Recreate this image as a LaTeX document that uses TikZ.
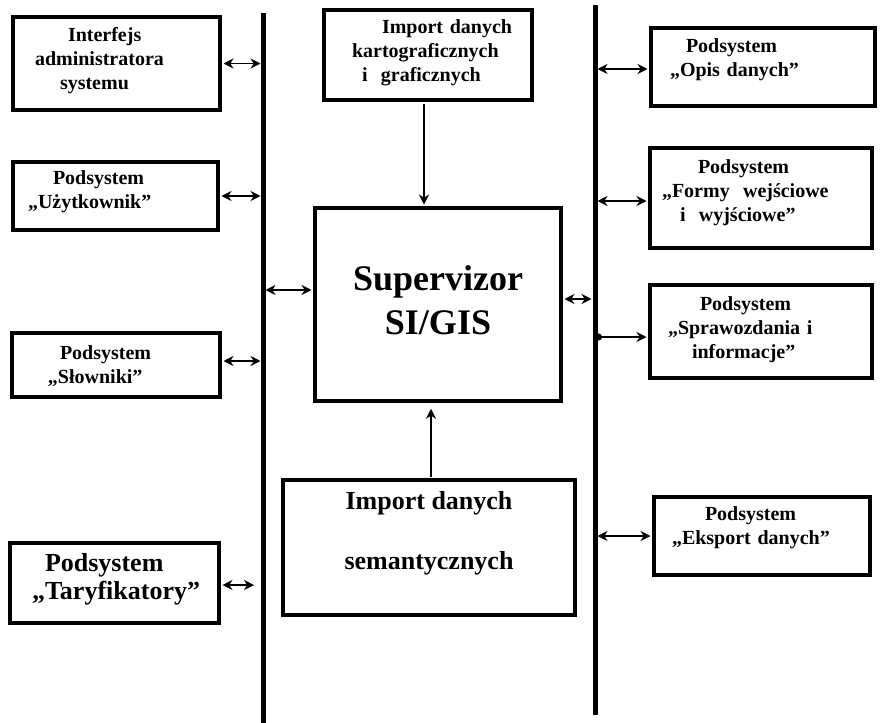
\documentclass[tikz,border=0pt]{standalone}
\usepackage{fontspec}
\setmainfont{Liberation Serif}
\usetikzlibrary{arrows.meta}
\tikzset{
  blk/.style={draw, line width=3.5pt, inner sep=0pt},
  txt/.style={inner sep=0pt, align=left, font=\bfseries\fontsize{20}{24}\selectfont},
  bigtxt/.style={inner sep=0pt, align=left, font=\bfseries\fontsize{26}{28}\selectfont},
  bus/.style={line width=5pt},
  arr/.style={line width=1.7pt, -{Stealth[length=10pt,width=10pt]}},
  darr/.style={line width=1.7pt, {Stealth[length=10pt,width=10pt]}-{Stealth[length=10pt,width=10pt]}},
}
\newcommand{\ind}[1]{\hspace*{#1pt}}
\begin{document}
\begin{tikzpicture}[x=1pt,y=-1pt]
\useasboundingbox[fill=white] (0,0) rectangle (881,723);

% buses
\coordinate (lt) at (263,13);
\coordinate (lb) at (263,723);
\coordinate (rt) at (595,5);
\coordinate (rb) at (595,715);
\draw[bus] (lt) -- (lb);
\draw[bus] (rt) -- (rb);

% boxes
\node[blk, minimum width=207pt, minimum height=93pt] (adm) at (116.5,63.5) {};
\node[txt, text width=207pt] (admT) at ([yshift=2.5pt]adm.center)
  {\ind{55}Interfejs\\\ind{22}administratora\\\ind{47}systemu};

\node[blk, minimum width=205pt, minimum height=68pt] (uzy) at (115.5,196) {};
\node[txt, text width=205pt] (uzyT) at ([yshift=4.5pt]uzy.center)
  {\ind{40}Podsystem\\\ind{15}„Użytkownik”};

\node[blk, minimum width=208pt, minimum height=64pt] (slo) at (116,365) {};
\node[txt, text width=208pt] (sloT) at ([yshift=-1pt]slo.center)
  {\ind{48}Podsystem\\\ind{36}„Słowniki”};

\node[blk, minimum width=209pt, minimum height=80pt] (tar) at (114.5,583) {};
\node[bigtxt, text width=209pt] (tarT) at ([yshift=4pt]tar.center)
  {\ind{35}Podsystem\\\ind{22}„Taryfikatory”};

\node[blk, minimum width=208pt, minimum height=90pt] (kar) at (428,55) {};
\node[txt, text width=208pt] (karT) at ([yshift=2pt]kar.center)
  {\ind{58}Import danych\\\ind{28}kartograficznych\\\ind{38}i\ \ graficznych};

\node[blk, minimum width=246pt, minimum height=193pt] (sup) at (438,304.5) {};
\node[inner sep=0pt, align=center, font=\bfseries\fontsize{36}{44}\selectfont] (supT)
  at ([yshift=4.5pt]sup.center) {Supervizor\\SI/GIS};

\node[blk, minimum width=292pt, minimum height=135pt] (sem) at (429,547.5) {};
\node[inner sep=0pt, align=center, font=\bfseries\fontsize{26}{30}\selectfont] (semT)
  at ([yshift=14.5pt]sem.center) {Import danych\\[30pt]semantycznych};

\node[blk, minimum width=224pt, minimum height=78pt] (opi) at (763,67) {};
\node[txt, text width=224pt] (opiT) at ([yshift=7pt]opi.center)
  {\ind{35}Podsystem\\\ind{19}„Opis danych”};

\node[blk, minimum width=222pt, minimum height=100pt] (for) at (761,198) {};
\node[txt, text width=222pt] (forT) at ([yshift=5pt]for.center)
  {\ind{48}Podsystem\\\ind{12}„Formy\ \ wejściowe\\\ind{30}i\ \ wyjściowe”};

\node[blk, minimum width=222pt, minimum height=93pt] (spr) at (761,331.5) {};
\node[txt, text width=222pt] (sprT) at ([yshift=1.5pt]spr.center)
  {\ind{50}Podsystem\\\ind{18}„Sprawozdania i\\\ind{42}informacje”};

\node[blk, minimum width=216pt, minimum height=78pt] (eks) at (762,536) {};
\node[txt, text width=216pt] (eksT) at ([yshift=8pt]eks.center)
  {\ind{51}Podsystem\\\ind{18}„Eksport danych”};

% left connectors
\draw[darr, shorten <=1.75pt, shorten >=2.5pt] (adm.east) -- (adm.east -| lt);
\draw[darr, shorten <=1.75pt, shorten >=2.5pt] (uzy.east) -- (uzy.east -| lt);
\draw[darr, shorten <=1.75pt, shorten >=2.5pt] ([yshift=4pt]slo.east) -- ([yshift=4pt]slo.east -| lt);
\draw[darr, shorten <=1.75pt, shorten >=9pt] ([yshift=-2pt]tar.east) -- ([yshift=-2pt]tar.east -| lt);

% central connectors
\draw[arr, shorten <=1.75pt, shorten >=1.75pt] ([xshift=-4pt]kar.south) -- ([xshift=-4pt]kar.south |- sup.north);
\draw[arr, shorten <=1.75pt, shorten >=6pt] ([xshift=2pt]sem.north) -- ([xshift=2pt]sem.north |- sup.south);
\draw[darr, shorten <=1.75pt, shorten >=2.5pt] ([yshift=14.5pt]sup.west) -- ([yshift=14.5pt]sup.west -| lt);
\draw[darr, shorten <=1.75pt, shorten >=3.5pt] ([yshift=5.5pt]sup.east) -- ([yshift=5.5pt]sup.east -| rt);

% right connectors
\draw[darr, shorten <=1.75pt, shorten >=2.5pt] ([yshift=-2pt]opi.west) -- ([yshift=-2pt]opi.west -| rt);
\draw[darr, shorten <=1.75pt, shorten >=2.5pt] ([yshift=-3pt]for.west) -- ([yshift=-3pt]for.west -| rt);
\draw[line width=1.7pt, {Circle[length=7pt]}-{Stealth[length=10pt,width=10pt]}, shorten >=1.75pt]
  ([yshift=-5.5pt]spr.west -| rt) -- ([yshift=-5.5pt]spr.west);
\draw[darr, shorten <=1.75pt, shorten >=2.5pt] (eks.west) -- (eks.west -| rt);
\end{tikzpicture}
\end{document}
